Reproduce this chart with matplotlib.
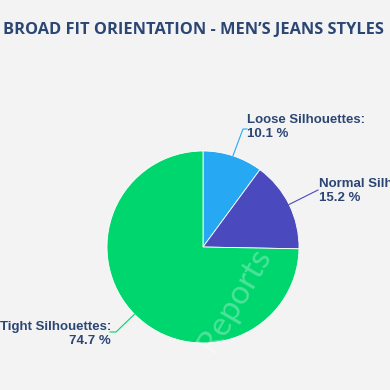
import matplotlib
matplotlib.use("Agg")
import matplotlib.pyplot as plt
import numpy as np

categories = ["Loose Silhouettes", "Normal Silhouettes", "Tight Silhouettes"]
values = [10.1, 15.2, 74.7]
colors = ["#26A9F2", "#4B49BE", "#00D66E"]
title = "BROAD FIT ORIENTATION - MEN\u2019S JEANS STYLES"

W = H = 390
fig = plt.figure(figsize=(3.9, 3.9), dpi=100)
fig.patch.set_facecolor("#F3F3F4")

# pie centre / radius in pixels
cx, cy, R = 203, 247, 96
ax = fig.add_axes([(cx - R) / W, (H - cy - R) / H, 2 * R / W, 2 * R / H])

wedges, _ = ax.pie(values, colors=colors, startangle=90, counterclock=False,
                   radius=1, wedgeprops=dict(edgecolor="white", linewidth=0.6))
ax.set_xlim(-1, 1)
ax.set_ylim(-1, 1)
ax.set_aspect("equal")
ax.axis("off")

navy = "#2C4674"
fig.text(3 / W, 1 - 30 / H, title, fontsize=11.8, fontweight="bold",
         color=navy, family="Open Sans", va="center", ha="left")

def px2fig(x, y):
    return x / W, 1 - y / H

# label positions (pixel) and line elbow
label_specs = [
    dict(tx=247, ty=127, ha="left", elbow=(243, 129), end=(247, 129)),
    dict(tx=319, ty=191, ha="left", elbow=None, end=(318, 190)),
    dict(tx=111, ty=334, ha="right", elbow=(116, 332), end=(110, 332)),
]

cum = 0
for cat, v, c, spec in zip(categories, values, colors, label_specs):
    mid = 90 - (cum + v / 2) / 100 * 360
    cum += v
    sx = cx + R * np.cos(np.radians(mid))
    sy = cy - R * np.sin(np.radians(mid))
    pts = [(sx, sy)]
    if spec["elbow"]:
        pts.append(spec["elbow"])
    pts.append(spec["end"])
    xs = [p[0] / W for p in pts]
    ys = [1 - p[1] / H for p in pts]
    fig.add_artist(plt.Line2D(xs, ys, color=c, lw=0.8, transform=fig.transFigure))
    fx, fy = px2fig(spec["tx"], spec["ty"])
    fig.text(fx, fy, f"{cat}:\n{v} %", fontsize=9.5, fontweight="bold", color=navy,
             family="Liberation Sans", ha=spec["ha"], va="center", linespacing=1.25,
             multialignment=spec["ha"])

# faint watermark
fig.text(235 / W, 1 - 300 / H, "Reports", fontsize=24, color="white", alpha=0.3,
         rotation=60, ha="center", va="center", family="Lato")

fig.savefig("out.png", dpi=100, facecolor=fig.get_facecolor())
